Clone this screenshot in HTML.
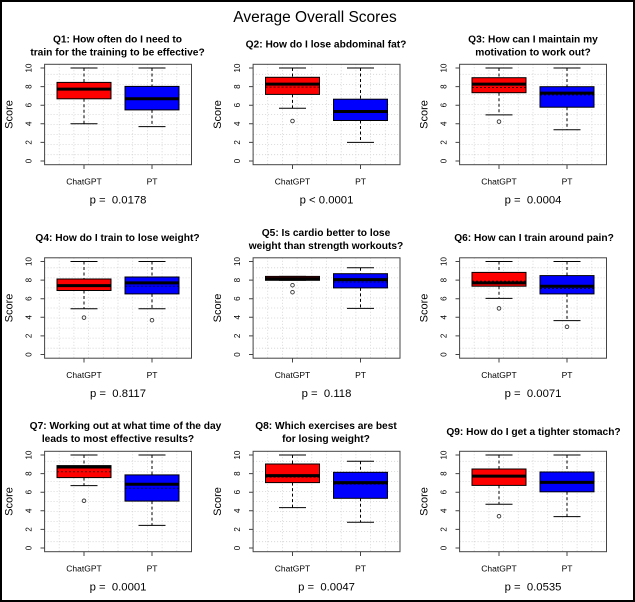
<!DOCTYPE html>
<html><head><meta charset="utf-8"><style>
html,body{margin:0;padding:0;background:#fff;}
svg{display:block;}
text{font-family:"Liberation Sans",Arial,sans-serif;fill:#000;}
.ti{font-weight:bold;font-size:10.2px;text-anchor:middle;}
.pv{font-size:11.3px;text-anchor:middle;white-space:pre;}
.xl{font-size:8.5px;text-anchor:middle;}
.yl{font-size:8px;text-anchor:middle;}
.sc{font-size:11px;text-anchor:middle;}
.w{stroke:#000;stroke-width:1;stroke-dasharray:3 2.5;fill:none;}
.k{stroke:#000;stroke-width:1;fill:none;}
.r{fill:#f00;stroke:#000;stroke-width:1;}
.b{fill:#00f;stroke:#000;stroke-width:1;}
.m{stroke:#000;stroke-width:3;fill:none;}
.mn{stroke:#000;stroke-width:1;stroke-dasharray:2 2;fill:none;opacity:.75;}
.o{fill:none;stroke:#333;stroke-width:0.9;}
</style></head><body>
<svg width="635" height="602" viewBox="0 0 635 602" xmlns="http://www.w3.org/2000/svg">
<rect x="0" y="0" width="635" height="602" fill="#fff"/>
<defs>
<g id="fr">
<path stroke="#cfcfcf" stroke-width="0.8" stroke-dasharray="1 2" fill="none" d="M59.2 64.3V164.7M73.9 64.3V164.7M88.6 64.3V164.7M103.3 64.3V164.7M118 64.3V164.7M132.7 64.3V164.7M147.4 64.3V164.7M162.1 64.3V164.7M176.8 64.3V164.7M44.6 154.7H191.5M44.6 144.6H191.5M44.6 134.6H191.5M44.6 124.5H191.5M44.6 114.5H191.5M44.6 104.5H191.5M44.6 94.4H191.5M44.6 84.4H191.5M44.6 74.3H191.5"/>
<rect x="44.6" y="64.3" width="146.9" height="100.4" fill="none" stroke="#444" stroke-width="1"/>
<path stroke="#444" stroke-width="1" d="M40.5 161H44.6M40.5 142.4H44.6M40.5 123.8H44.6M40.5 105.2H44.6M40.5 86.6H44.6M40.5 68H44.6M84 164.7V169M152 164.7V169"/>
</g>
</defs>

<text x="315" y="22" style="font-size:15.5px;text-anchor:middle;">Average Overall Scores</text>

<!-- Q1 -->
<g transform="translate(0,0)">
<use href="#fr"/>
<text class="yl" x="31.5" y="161" transform="rotate(-90 31.5 161)">0</text>
<text class="yl" x="31.5" y="142.4" transform="rotate(-90 31.5 142.4)">2</text>
<text class="yl" x="31.5" y="123.8" transform="rotate(-90 31.5 123.8)">4</text>
<text class="yl" x="31.5" y="105.2" transform="rotate(-90 31.5 105.2)">6</text>
<text class="yl" x="31.5" y="86.6" transform="rotate(-90 31.5 86.6)">8</text>
<text class="yl" x="31.5" y="68" transform="rotate(-90 31.5 68)">10</text>
<text class="sc" x="12.5" y="114.5" transform="rotate(-90 12.5 114.5)">Score</text>
<text class="xl" x="84" y="184.5">ChatGPT</text><text class="xl" x="152" y="184.5">PT</text>
<text class="ti" x="117.5" y="42.5">Q1: How often do I need to</text>
<text class="ti" x="117.5" y="55.5">train for the training to be effective?</text>
<text class="pv" x="118" y="203.5">p =  0.0178</text>
<path class="w" d="M84 68V82.4M84 98.8V123.8"/><path class="k" d="M70.5 68H97.5M70.5 123.8H97.5"/>
<rect class="r" x="57" y="82.4" width="54" height="16.4"/><path class="m" d="M57 89.1H111"/>
<path class="w" d="M152 68V86.4M152 109.9V126.6"/><path class="k" d="M138.5 68H165.5M138.5 126.6H165.5"/>
<rect class="b" x="125" y="86.4" width="54" height="23.5"/><path class="m" d="M125 98.8H179"/>
</g>

<!-- Q2 -->
<g transform="translate(208.5,0)">
<use href="#fr"/>
<text class="yl" x="31.5" y="161" transform="rotate(-90 31.5 161)">0</text>
<text class="yl" x="31.5" y="142.4" transform="rotate(-90 31.5 142.4)">2</text>
<text class="yl" x="31.5" y="123.8" transform="rotate(-90 31.5 123.8)">4</text>
<text class="yl" x="31.5" y="105.2" transform="rotate(-90 31.5 105.2)">6</text>
<text class="yl" x="31.5" y="86.6" transform="rotate(-90 31.5 86.6)">8</text>
<text class="yl" x="31.5" y="68" transform="rotate(-90 31.5 68)">10</text>
<text class="sc" x="12.5" y="114.5" transform="rotate(-90 12.5 114.5)">Score</text>
<text class="xl" x="84" y="184.5">ChatGPT</text><text class="xl" x="152" y="184.5">PT</text>
<text class="ti" x="117.5" y="47.5">Q2: How do I lose abdominal fat?</text>
<text class="pv" x="118" y="203.5">p &lt; 0.0001</text>
<path class="w" d="M84 68V77.3M84 94.4V108.2"/><path class="k" d="M70.5 68H97.5M70.5 108.2H97.5"/>
<rect class="r" x="57" y="77.3" width="54" height="17.1"/><path class="mn" d="M57 87.1H111"/><path class="m" d="M57 84.1H111"/>
<circle class="o" cx="84" cy="121" r="1.8"/>
<path class="w" d="M152 68V99.2M152 120.5V142.4"/><path class="k" d="M138.5 68H165.5M138.5 142.4H165.5"/>
<rect class="b" x="125" y="99.2" width="54" height="21.3"/><path class="m" d="M125 111.5H179"/>
</g>

<!-- Q3 -->
<g transform="translate(415,0)">
<use href="#fr"/>
<text class="yl" x="31.5" y="161" transform="rotate(-90 31.5 161)">0</text>
<text class="yl" x="31.5" y="142.4" transform="rotate(-90 31.5 142.4)">2</text>
<text class="yl" x="31.5" y="123.8" transform="rotate(-90 31.5 123.8)">4</text>
<text class="yl" x="31.5" y="105.2" transform="rotate(-90 31.5 105.2)">6</text>
<text class="yl" x="31.5" y="86.6" transform="rotate(-90 31.5 86.6)">8</text>
<text class="yl" x="31.5" y="68" transform="rotate(-90 31.5 68)">10</text>
<text class="sc" x="12.5" y="114.5" transform="rotate(-90 12.5 114.5)">Score</text>
<text class="xl" x="84" y="184.5">ChatGPT</text><text class="xl" x="152" y="184.5">PT</text>
<text class="ti" x="118" y="42.5">Q3: How can I maintain my</text>
<text class="ti" x="118" y="55.5">motivation to work out?</text>
<text class="pv" x="118" y="203.5">p =  0.0004</text>
<path class="w" d="M84 68V77.7M84 92.7V114.9"/><path class="k" d="M70.5 68H97.5M70.5 114.9H97.5"/>
<rect class="r" x="57" y="77.7" width="54" height="15"/><path class="mn" d="M57 87.5H111"/><path class="m" d="M57 84.1H111"/>
<circle class="o" cx="84" cy="121.6" r="1.8"/>
<path class="w" d="M152 68V86.7M152 107.2V129.8"/><path class="k" d="M138.5 68H165.5M138.5 129.8H165.5"/>
<rect class="b" x="125" y="86.7" width="54" height="20.5"/><path class="mn" d="M125 95H179"/><path class="m" d="M125 93.1H179"/>
</g>

<!-- Q4 -->
<g transform="translate(0,193.5)">
<use href="#fr"/>
<text class="yl" x="31.5" y="161" transform="rotate(-90 31.5 161)">0</text>
<text class="yl" x="31.5" y="142.4" transform="rotate(-90 31.5 142.4)">2</text>
<text class="yl" x="31.5" y="123.8" transform="rotate(-90 31.5 123.8)">4</text>
<text class="yl" x="31.5" y="105.2" transform="rotate(-90 31.5 105.2)">6</text>
<text class="yl" x="31.5" y="86.6" transform="rotate(-90 31.5 86.6)">8</text>
<text class="yl" x="31.5" y="68" transform="rotate(-90 31.5 68)">10</text>
<text class="sc" x="12.5" y="114.5" transform="rotate(-90 12.5 114.5)">Score</text>
<text class="xl" x="84" y="184.5">ChatGPT</text><text class="xl" x="152" y="184.5">PT</text>
<text class="ti" x="117.5" y="47.5">Q4: How do I train to lose weight?</text>
<text class="pv" x="118" y="203.5">p =  0.8117</text>
<path class="w" d="M84 68V85.5M84 97V115.2"/><path class="k" d="M70.5 68H97.5M70.5 115.2H97.5"/>
<rect class="r" x="57" y="85.5" width="54" height="11.5"/><path class="m" d="M57 92.1H111"/>
<circle class="o" cx="84" cy="124.1" r="1.8"/>
<path class="w" d="M152 68V83.5M152 100.4V115.2"/><path class="k" d="M138.5 68H165.5M138.5 115.2H165.5"/>
<rect class="b" x="125" y="83.5" width="54" height="16.9"/><path class="mn" d="M125 92.7H179"/><path class="m" d="M125 89.4H179"/>
<circle class="o" cx="152" cy="126.7" r="1.8"/>
</g>

<!-- Q5 -->
<g transform="translate(208.5,193.5)">
<use href="#fr"/>
<text class="yl" x="31.5" y="161" transform="rotate(-90 31.5 161)">0</text>
<text class="yl" x="31.5" y="142.4" transform="rotate(-90 31.5 142.4)">2</text>
<text class="yl" x="31.5" y="123.8" transform="rotate(-90 31.5 123.8)">4</text>
<text class="yl" x="31.5" y="105.2" transform="rotate(-90 31.5 105.2)">6</text>
<text class="yl" x="31.5" y="86.6" transform="rotate(-90 31.5 86.6)">8</text>
<text class="yl" x="31.5" y="68" transform="rotate(-90 31.5 68)">10</text>
<text class="sc" x="12.5" y="114.5" transform="rotate(-90 12.5 114.5)">Score</text>
<text class="xl" x="84" y="184.5">ChatGPT</text><text class="xl" x="152" y="184.5">PT</text>
<text class="ti" x="117.5" y="42.5">Q5: Is cardio better to lose</text>
<text class="ti" x="117.5" y="55.5">weight than strength workouts?</text>
<text class="pv" x="118" y="203.5">p =  0.118</text>
<path class="k" d="M70.5 82.9H97.5M70.5 86.8H97.5"/>
<rect class="r" x="57" y="82.9" width="54" height="3.9" fill="#a33"/><path class="m" d="M57 85.1H111"/>
<circle class="o" cx="84" cy="91.7" r="1.8"/><circle class="o" cx="84" cy="98.7" r="1.8"/>
<path class="w" d="M152 74.2V80.2M152 94.4V114.9"/><path class="k" d="M138.5 74.2H165.5M138.5 114.9H165.5"/>
<rect class="b" x="125" y="80.2" width="54" height="14.2"/><path class="mn" d="M125 88.5H179"/><path class="m" d="M125 86.1H179"/>
</g>

<!-- Q6 -->
<g transform="translate(415,193.5)">
<use href="#fr"/>
<text class="yl" x="31.5" y="161" transform="rotate(-90 31.5 161)">0</text>
<text class="yl" x="31.5" y="142.4" transform="rotate(-90 31.5 142.4)">2</text>
<text class="yl" x="31.5" y="123.8" transform="rotate(-90 31.5 123.8)">4</text>
<text class="yl" x="31.5" y="105.2" transform="rotate(-90 31.5 105.2)">6</text>
<text class="yl" x="31.5" y="86.6" transform="rotate(-90 31.5 86.6)">8</text>
<text class="yl" x="31.5" y="68" transform="rotate(-90 31.5 68)">10</text>
<text class="sc" x="12.5" y="114.5" transform="rotate(-90 12.5 114.5)">Score</text>
<text class="xl" x="84" y="184.5">ChatGPT</text><text class="xl" x="152" y="184.5">PT</text>
<text class="ti" x="119" y="47.5">Q6: How can I train around pain?</text>
<text class="pv" x="118" y="203.5">p =  0.0071</text>
<path class="w" d="M84 68V78.9M84 92.7V104.9"/><path class="k" d="M70.5 68H97.5M70.5 104.9H97.5"/>
<rect class="r" x="57" y="78.9" width="54" height="13.8"/><path class="mn" d="M57 87.6H111"/><path class="m" d="M57 89.4H111"/>
<circle class="o" cx="84" cy="114.9" r="1.8"/>
<path class="w" d="M152 68V82.1M152 100.4V127.1"/><path class="k" d="M138.5 68H165.5M138.5 127.1H165.5"/>
<rect class="b" x="125" y="82.1" width="54" height="18.3"/><path class="mn" d="M125 95H179"/><path class="m" d="M125 92.7H179"/>
<circle class="o" cx="152" cy="133.3" r="1.8"/>
</g>

<!-- Q7 -->
<g transform="translate(0,387)">
<use href="#fr"/>
<text class="yl" x="31.5" y="161" transform="rotate(-90 31.5 161)">0</text>
<text class="yl" x="31.5" y="142.4" transform="rotate(-90 31.5 142.4)">2</text>
<text class="yl" x="31.5" y="123.8" transform="rotate(-90 31.5 123.8)">4</text>
<text class="yl" x="31.5" y="105.2" transform="rotate(-90 31.5 105.2)">6</text>
<text class="yl" x="31.5" y="86.6" transform="rotate(-90 31.5 86.6)">8</text>
<text class="yl" x="31.5" y="68" transform="rotate(-90 31.5 68)">10</text>
<text class="sc" x="12.5" y="114.5" transform="rotate(-90 12.5 114.5)">Score</text>
<text class="xl" x="84" y="184.5">ChatGPT</text><text class="xl" x="152" y="184.5">PT</text>
<text class="ti" x="125.5" y="42">Q7: Working out at what time of the day</text>
<text class="ti" x="118" y="55">leads to most effective results?</text>
<text class="pv" x="118" y="203.5">p =  0.0001</text>
<path class="w" d="M84 68V78.6M84 90.6V98.6"/><path class="k" d="M70.5 68H97.5M70.5 98.6H97.5"/>
<rect class="r" x="57" y="78.6" width="54" height="12"/><path class="mn" d="M57 84.7H111"/><path class="m" d="M57 80H111"/>
<circle class="o" cx="84" cy="113.8" r="1.8"/>
<path class="w" d="M152 68V87.9M152 114.1V138.4"/><path class="k" d="M138.5 68H165.5M138.5 138.4H165.5"/>
<rect class="b" x="125" y="87.9" width="54" height="26.2"/><path class="mn" d="M125 101.2H179"/><path class="m" d="M125 97.2H179"/>
</g>

<!-- Q8 -->
<g transform="translate(208.5,387)">
<use href="#fr"/>
<text class="yl" x="31.5" y="161" transform="rotate(-90 31.5 161)">0</text>
<text class="yl" x="31.5" y="142.4" transform="rotate(-90 31.5 142.4)">2</text>
<text class="yl" x="31.5" y="123.8" transform="rotate(-90 31.5 123.8)">4</text>
<text class="yl" x="31.5" y="105.2" transform="rotate(-90 31.5 105.2)">6</text>
<text class="yl" x="31.5" y="86.6" transform="rotate(-90 31.5 86.6)">8</text>
<text class="yl" x="31.5" y="68" transform="rotate(-90 31.5 68)">10</text>
<text class="sc" x="12.5" y="114.5" transform="rotate(-90 12.5 114.5)">Score</text>
<text class="xl" x="84" y="184.5">ChatGPT</text><text class="xl" x="152" y="184.5">PT</text>
<text class="ti" x="117.5" y="42">Q8: Which exercises are best</text>
<text class="ti" x="117.5" y="55">for losing weight?</text>
<text class="pv" x="118" y="203.5">p =  0.0047</text>
<path class="w" d="M84 68V77M84 95.6V120.6"/><path class="k" d="M70.5 68H97.5M70.5 120.6H97.5"/>
<rect class="r" x="57" y="77" width="54" height="18.6"/><path class="mn" d="M57 90.3H111"/><path class="m" d="M57 88.6H111"/>
<path class="w" d="M152 74.3V85.3M152 111.3V135.3"/><path class="k" d="M138.5 74.3H165.5M138.5 135.3H165.5"/>
<rect class="b" x="125" y="85.3" width="54" height="26"/><path class="mn" d="M125 97.3H179"/><path class="m" d="M125 95.6H179"/>
</g>

<!-- Q9 -->
<g transform="translate(415,387)">
<use href="#fr"/>
<text class="yl" x="31.5" y="161" transform="rotate(-90 31.5 161)">0</text>
<text class="yl" x="31.5" y="142.4" transform="rotate(-90 31.5 142.4)">2</text>
<text class="yl" x="31.5" y="123.8" transform="rotate(-90 31.5 123.8)">4</text>
<text class="yl" x="31.5" y="105.2" transform="rotate(-90 31.5 105.2)">6</text>
<text class="yl" x="31.5" y="86.6" transform="rotate(-90 31.5 86.6)">8</text>
<text class="yl" x="31.5" y="68" transform="rotate(-90 31.5 68)">10</text>
<text class="sc" x="12.5" y="114.5" transform="rotate(-90 12.5 114.5)">Score</text>
<text class="xl" x="84" y="184.5">ChatGPT</text><text class="xl" x="152" y="184.5">PT</text>
<text class="ti" x="118.5" y="48">Q9: How do I get a tighter stomach?</text>
<text class="pv" x="118" y="203.5">p =  0.0535</text>
<path class="w" d="M84 68V82M84 98.4V117.2"/><path class="k" d="M70.5 68H97.5M70.5 117.2H97.5"/>
<rect class="r" x="57" y="82" width="54" height="16.4"/><path class="m" d="M57 89.1H111"/>
<circle class="o" cx="84" cy="129.2" r="1.8"/>
<path class="w" d="M152 68V85M152 104.8V129.6"/><path class="k" d="M138.5 68H165.5M138.5 129.6H165.5"/>
<rect class="b" x="125" y="85" width="54" height="19.8"/><path class="m" d="M125 95.4H179"/>
</g>

<rect x="1" y="1" width="633" height="600" fill="none" stroke="#000" stroke-width="2"/>
</svg>
</body></html>
